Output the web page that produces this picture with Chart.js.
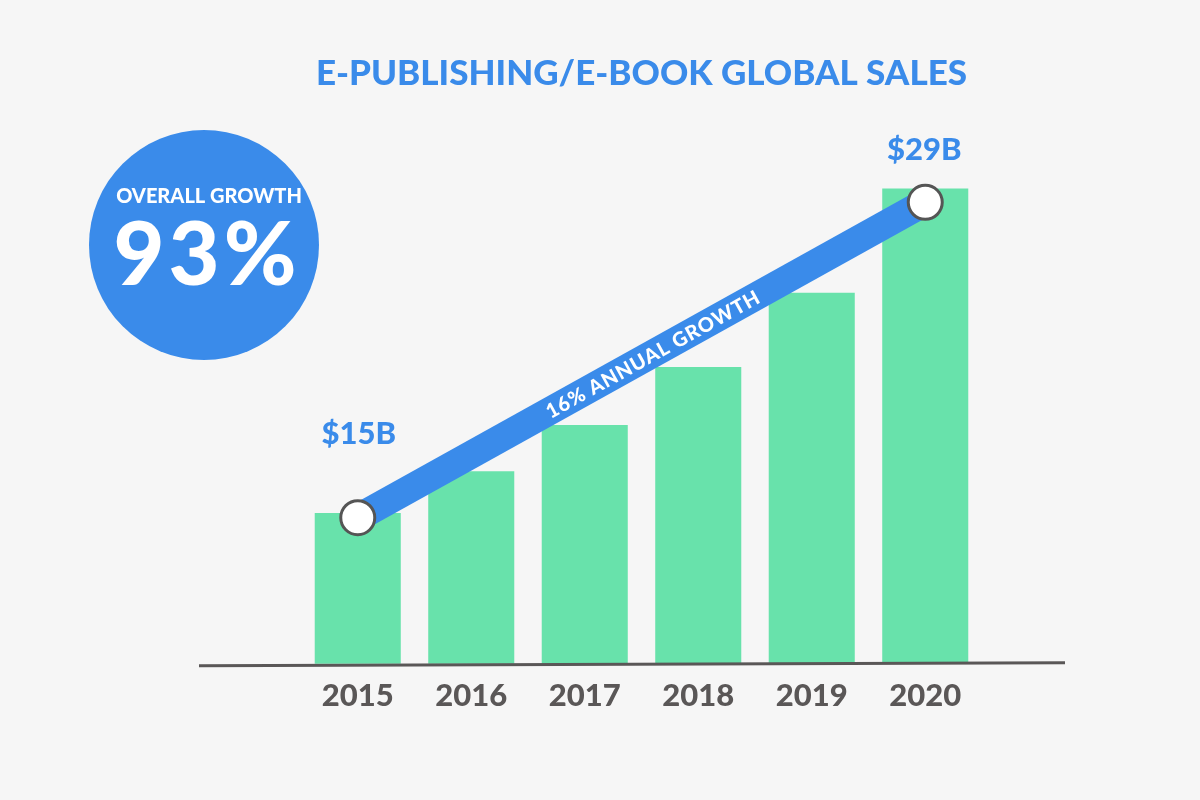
<!DOCTYPE html>
<html lang="en">
<head>
  <meta charset="UTF-8">
  <title>E-Publishing / E-Book Global Sales</title>
  <script src="https://cdn.jsdelivr.net/npm/chart.js"></script>
  <style>
    html, body {
      margin: 0;
      padding: 0;
      background: #f6f6f6;
    }
    canvas {
      display: block;
    }
  </style>
</head>
<body>
  <canvas id="salesChart" width="1200" height="800"></canvas>

  <script>
    // Data (bars are not drawn from zero in the original)
    const years = ["2015", "2016", "2017", "2018", "2019", "2020"];
    const sales = [15, 16.8, 18.8, 21.3, 24.5, 29];
    const trendLine = [14.8, null, null, null, null, 28.4];
    const endLabels = ["$15B", null, null, null, null, "$29B"];
    const trendText = "16% ANNUAL GROWTH";
    const overallText = "OVERALL GROWTH";
    const overallValue = "93%";

    const BLUE = "#3a8bea";
    const GREEN = "#68e2ab";
    const GREY = "#5a5757";
    const FONT = "Lato, 'Open Sans', sans-serif";

    // Extras: baseline, label along the trend line, end labels and the growth badge
    const decorPlugin = {
      id: "decor",
      beforeDatasetsDraw(chart) {
        const ctx = chart.ctx;
        // badge circle
        ctx.save();
        ctx.fillStyle = BLUE;
        ctx.beginPath();
        ctx.arc(204, 245, 115, 0, Math.PI * 2);
        ctx.fill();
        ctx.fillStyle = "#ffffff";
        ctx.textAlign = "center";
        ctx.textBaseline = "middle";
        ctx.font = "900 20px " + FONT;
        ctx.fillText(overallText, 209, 197);
        ctx.font = "900 88px " + FONT;
        ctx.letterSpacing = "4px";
        ctx.fillText(overallValue, 207, 257);
        ctx.restore();
      },
      afterDatasetsDraw(chart) {
        const ctx = chart.ctx;
        const area = chart.chartArea;
        const pts = chart.getDatasetMeta(0).data;
        const p0 = pts[0], p1 = pts[pts.length - 1];

        // baseline
        ctx.save();
        ctx.strokeStyle = GREY;
        ctx.lineWidth = 3;
        ctx.beginPath();
        ctx.moveTo(area.left - 102, area.bottom + 2);
        ctx.lineTo(area.right + 83, area.bottom - 1);
        ctx.stroke();

        // text along the line
        const ang = Math.atan2(p1.y - p0.y, p1.x - p0.x);
        const t = 0.52;
        ctx.translate(p0.x + (p1.x - p0.x) * t, p0.y + (p1.y - p0.y) * t);
        ctx.rotate(ang);
        ctx.fillStyle = "#ffffff";
        ctx.font = "900 20px " + FONT;
        ctx.letterSpacing = "1px";
        ctx.textAlign = "center";
        ctx.textBaseline = "middle";
        ctx.fillText(trendText, 0, 1);
        ctx.restore();

        // $ labels above the end points
        ctx.save();
        ctx.fillStyle = BLUE;
        ctx.font = "900 31px " + FONT;
        ctx.textAlign = "center";
        ctx.textBaseline = "middle";
        endLabels.forEach((lbl, i) => {
          if (!lbl) return;
          const pt = pts[i];
          const up = i === 0 ? 84 : 52;
          ctx.fillText(lbl, pt.x + (i === 0 ? 1 : -1), pt.y - up);
        });
        ctx.restore();
      }
    };

    const ctx = document.getElementById("salesChart").getContext("2d");
    new Chart(ctx, {
      data: {
        labels: years,
        datasets: [
          {
            type: "line",
            data: trendLine,
            spanGaps: true,
            borderColor: BLUE,
            borderWidth: 28,
            borderCapStyle: "butt",
            pointRadius: [17, 0, 0, 0, 0, 17],
            pointBackgroundColor: "#ffffff",
            pointBorderColor: "#555555",
            pointBorderWidth: 3,
            order: 0
          },
          {
            type: "bar",
            data: sales,
            backgroundColor: GREEN,
            barPercentage: 1,
            categoryPercentage: 0.758,
            order: 1
          }
        ]
      },
      options: {
        responsive: false,
        animation: false,
        devicePixelRatio: 1,
        layout: {
          padding: { left: 301, right: 218, top: 51, bottom: 71 }
        },
        plugins: {
          legend: { display: false },
          tooltip: { enabled: false },
          title: {
            display: true,
            text: "E-PUBLISHING/E-BOOK GLOBAL SALES",
            color: BLUE,
            font: { family: FONT, size: 35, weight: "900", lineHeight: 1.2 },
            padding: { top: 2, bottom: 47 }
          }
        },
        scales: {
          x: {
            grid: { display: false, drawTicks: false },
            border: { display: false },
            ticks: {
              color: GREY,
              padding: 14,
              font: { family: FONT, size: 31, weight: "900" }
            }
          },
          y: {
            display: false,
            min: 8.5,
            max: 31
          }
        }
      },
      plugins: [decorPlugin]
    });
  </script>
</body>
</html>
